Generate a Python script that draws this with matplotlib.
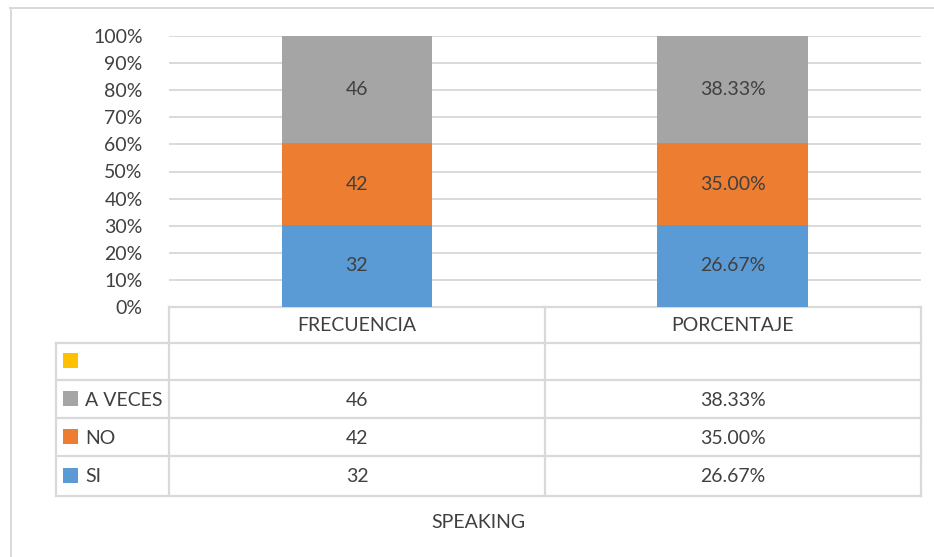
import matplotlib

matplotlib.use("Agg")
import matplotlib.pyplot as plt  # noqa: E402
from matplotlib.lines import Line2D  # noqa: E402
from matplotlib.patches import Rectangle  # noqa: E402

# data
categories = ["FRECUENCIA", "PORCENTAJE"]
series_names = ["SI", "NO", "A VECES", ""]
series_colors = ["#5B9BD5", "#ED7D31", "#A5A5A5", "#FFC000"]
# stacked shares as drawn in the picture (fraction of the 100% column)
si_share = [0.303, 0.303]
no_share = [0.301, 0.301]
aveces_share = [0.396, 0.396]
# values shown in the labels / data table
value_labels = {
    "SI": ["32", "26.67%"],
    "NO": ["42", "35.00%"],
    "A VECES": ["46", "38.33%"],
    "": ["", ""],
}
title = "SPEAKING"

TXT = "#404040"
GRID = "#D9D9D9"
W, H = 934, 557

plt.rcParams["font.family"] = ["Lato", "DejaVu Sans"]

fig = plt.figure(figsize=(W / 100, H / 100), dpi=100)

# pixel-space overlay for border / data table
tab = fig.add_axes([0, 0, 1, 1])
tab.set_xlim(0, W)
tab.set_ylim(H, 0)
tab.axis("off")

# bar axes placed over the plot area
x0, x1, y_top, y_bot = 169, 920.5, 36, 307
ax = fig.add_axes([x0 / W, 1 - y_bot / H, (x1 - x0) / W, (y_bot - y_top) / H])
ax.set_zorder(2)
ax.patch.set_alpha(0)

xs = list(range(len(categories)))
stack = [si_share, no_share, aveces_share]
bottoms = [0.0] * len(xs)
for name, fr, color in zip(series_names[:3], stack, series_colors[:3]):
    ax.bar(xs, fr, bottom=bottoms, width=0.4, color=color, zorder=3)
    for i in xs:
        ax.text(xs[i], bottoms[i] + fr[i] / 2, value_labels[name][i],
                ha="center", va="center", fontsize=14, color=TXT, zorder=4)
    bottoms = [b + f for b, f in zip(bottoms, fr)]

ax.set_xlim(-0.5, len(categories) - 0.5)
ax.set_ylim(0, 1)
ax.set_yticks([i / 10 for i in range(11)])
ax.set_yticklabels([f"{i * 10}%" for i in range(11)])
ax.tick_params(axis="y", length=0, pad=19, labelsize=14, labelcolor=TXT)
ax.set_xticks([])
for s in ax.spines.values():
    s.set_visible(False)
ax.grid(axis="y", color=GRID, linewidth=1.4, zorder=0)

# outer chart border (top and left visible)
tab.add_line(Line2D([10, W], [7.5, 7.5], color=GRID, lw=1.4))
tab.add_line(Line2D([10.5, 10.5], [7.5, H], color=GRID, lw=1.4))

# data table
col_x = [56, 169, 545, 920.5]
row_y = [307, 342.5, 380, 418, 456, 495.5]
tlw = 1.6
tab.add_line(Line2D([col_x[1], col_x[3]], [row_y[0], row_y[0]], color=GRID, lw=tlw))
for y in row_y[1:]:
    tab.add_line(Line2D([col_x[0], col_x[3]], [y, y], color=GRID, lw=tlw))
tab.add_line(Line2D([col_x[0], col_x[0]], [row_y[1], row_y[-1]], color=GRID, lw=tlw))
for x in col_x[1:]:
    tab.add_line(Line2D([x, x], [row_y[0], row_y[-1]], color=GRID, lw=tlw))

for j, cat in enumerate(categories):
    cx = (col_x[j + 1] + col_x[j + 2]) / 2
    tab.text(cx, (row_y[0] + row_y[1]) / 2 + 1, cat, ha="center", va="center",
             fontsize=14, color=TXT)

table_rows = ["", "A VECES", "NO", "SI"]
for r, name in enumerate(table_rows):
    yc = (row_y[r + 1] + row_y[r + 2]) / 2
    color = series_colors[series_names.index(name)]
    tab.add_patch(Rectangle((63, yc - 8), 15, 15, color=color, lw=0))
    tab.text(85, yc + 1, name, ha="left", va="center", fontsize=14, color=TXT)
    for j in range(len(categories)):
        cx = (col_x[j + 1] + col_x[j + 2]) / 2
        tab.text(cx, yc + 1, value_labels[name][j], ha="center", va="center",
                 fontsize=14, color=TXT)

tab.text((col_x[1] + col_x[3]) / 2 - 66, 523, title, ha="center", va="center",
         fontsize=14, color=TXT)

fig.savefig("out.png", dpi=100)
